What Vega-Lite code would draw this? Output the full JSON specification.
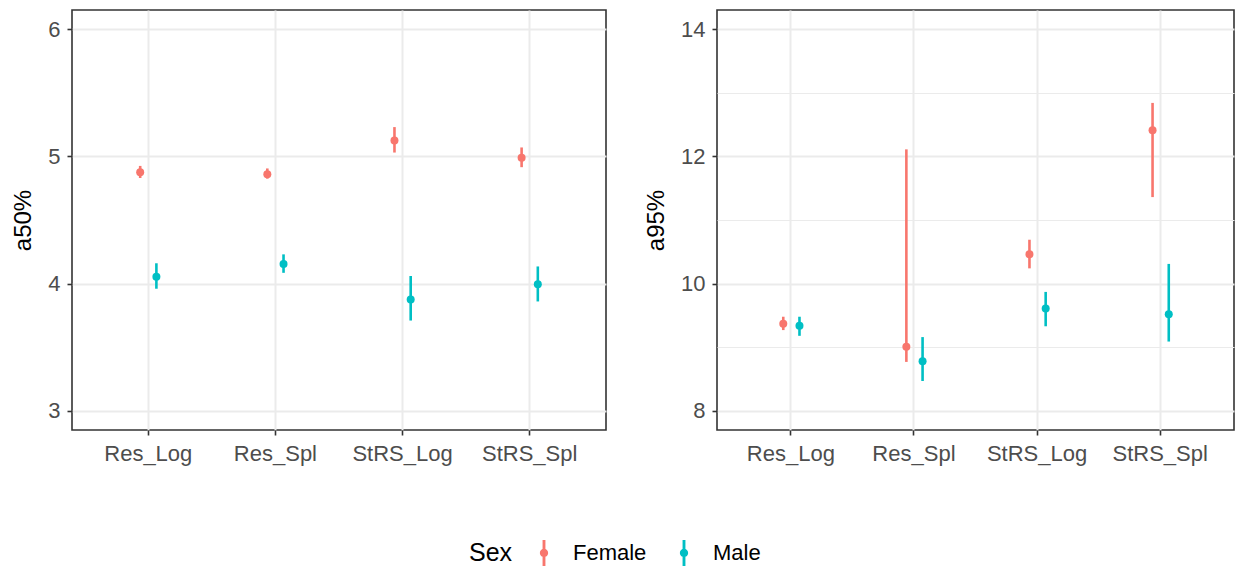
{
  "$schema": "https://vega.github.io/schema/vega-lite/v6.json",
  "padding": {"left": 10, "top": 9, "right": 0, "bottom": 0},
  "background": "white",
  "data": {
    "values": [
      {"param": "a50%", "model": "Res_Log", "Sex": "Female", "est": 4.875, "lo": 4.83, "hi": 4.925},
      {"param": "a50%", "model": "Res_Log", "Sex": "Male", "est": 4.055, "lo": 3.96, "hi": 4.16},
      {"param": "a50%", "model": "Res_Spl", "Sex": "Female", "est": 4.86, "lo": 4.825, "hi": 4.905},
      {"param": "a50%", "model": "Res_Spl", "Sex": "Male", "est": 4.155, "lo": 4.085, "hi": 4.23},
      {"param": "a50%", "model": "StRS_Log", "Sex": "Female", "est": 5.125, "lo": 5.03, "hi": 5.23},
      {"param": "a50%", "model": "StRS_Log", "Sex": "Male", "est": 3.875, "lo": 3.71, "hi": 4.06},
      {"param": "a50%", "model": "StRS_Spl", "Sex": "Female", "est": 4.99, "lo": 4.915, "hi": 5.07},
      {"param": "a50%", "model": "StRS_Spl", "Sex": "Male", "est": 3.995, "lo": 3.86, "hi": 4.135},
      {"param": "a95%", "model": "Res_Log", "Sex": "Female", "est": 9.37, "lo": 9.27, "hi": 9.48},
      {"param": "a95%", "model": "Res_Log", "Sex": "Male", "est": 9.34, "lo": 9.18, "hi": 9.48},
      {"param": "a95%", "model": "Res_Spl", "Sex": "Female", "est": 9.01, "lo": 8.77, "hi": 12.11},
      {"param": "a95%", "model": "Res_Spl", "Sex": "Male", "est": 8.78, "lo": 8.47, "hi": 9.16},
      {"param": "a95%", "model": "StRS_Log", "Sex": "Female", "est": 10.46, "lo": 10.24, "hi": 10.69},
      {"param": "a95%", "model": "StRS_Log", "Sex": "Male", "est": 9.61, "lo": 9.33, "hi": 9.87},
      {"param": "a95%", "model": "StRS_Spl", "Sex": "Female", "est": 12.41, "lo": 11.36, "hi": 12.84},
      {"param": "a95%", "model": "StRS_Spl", "Sex": "Male", "est": 9.52, "lo": 9.09, "hi": 10.31}
    ]
  },
  "spacing": 36,
  "hconcat": [
    {
      "width": 534,
      "height": 420,
      "transform": [{"filter": "datum.param === 'a50%'"}],
      "encoding": {
        "x": {"field": "model", "type": "nominal", "title": null,
              "scale": {"paddingInner": 0.745, "paddingOuter": 0.4725},
              "axis": {"bandPosition": 0.5}},
        "xOffset": {"field": "Sex", "type": "nominal", "scale": {"paddingInner": 0, "paddingOuter": 0}},
        "color": {"field": "Sex", "type": "nominal",
                  "scale": {"domain": ["Female", "Male"], "range": ["#F8766D", "#00BFC4"]},
                  "legend": {"title": "Sex"}}
      },
      "layer": [
        {
          "mark": {"type": "rule", "strokeWidth": 2.6},
          "encoding": {
            "y": {"field": "lo", "type": "quantitative", "title": "a50%",
                  "scale": {"domain": [2.85, 6.15], "nice": false, "zero": false},
                  "axis": {"values": [3, 3.5, 4, 4.5, 5, 5.5, 6], "format": "d",
                           "labelExpr": "datum.value % 1 === 0 ? datum.label : ''",
                           "gridWidth": {"condition": {"test": "datum.value % 1 === 0", "value": 2}, "value": 1},
                           "tickOpacity": {"condition": {"test": "datum.value % 1 === 0", "value": 1}, "value": 0}}},
            "y2": {"field": "hi"}
          }
        },
        {
          "mark": {"type": "point", "filled": true, "opacity": 1, "size": 64},
          "encoding": {"y": {"field": "est", "type": "quantitative"}}
        }
      ]
    },
    {
      "width": 517,
      "height": 420,
      "transform": [{"filter": "datum.param === 'a95%'"}],
      "encoding": {
        "x": {"field": "model", "type": "nominal", "title": null,
              "scale": {"paddingInner": 0.745, "paddingOuter": 0.4725},
              "axis": {"bandPosition": 0.5}},
        "xOffset": {"field": "Sex", "type": "nominal", "scale": {"paddingInner": 0, "paddingOuter": 0}},
        "color": {"field": "Sex", "type": "nominal",
                  "scale": {"domain": ["Female", "Male"], "range": ["#F8766D", "#00BFC4"]},
                  "legend": {"title": "Sex"}}
      },
      "layer": [
        {
          "mark": {"type": "rule", "strokeWidth": 2.6},
          "encoding": {
            "y": {"field": "lo", "type": "quantitative", "title": "a95%",
                  "scale": {"domain": [7.7, 14.3], "nice": false, "zero": false},
                  "axis": {"values": [8, 9, 10, 11, 12, 13, 14], "format": "d",
                           "labelExpr": "datum.value % 2 === 0 ? datum.label : ''",
                           "gridWidth": {"condition": {"test": "datum.value % 2 === 0", "value": 2}, "value": 1},
                           "tickOpacity": {"condition": {"test": "datum.value % 2 === 0", "value": 1}, "value": 0}}},
            "y2": {"field": "hi"}
          }
        },
        {
          "mark": {"type": "point", "filled": true, "opacity": 1, "size": 64},
          "encoding": {"y": {"field": "est", "type": "quantitative"}}
        }
      ]
    }
  ],
  "resolve": {"scale": {"color": "shared"}},
  "config": {
    "font": "Liberation Sans",
    "view": {"stroke": "#333333", "strokeWidth": 1.6},
    "axis": {
      "domain": false,
      "grid": true,
      "gridColor": "#EBEBEB",
      "gridWidth": 2,
      "tickColor": "#333333",
      "tickWidth": 1.6,
      "tickSize": 5,
      "labelFont": "Liberation Sans",
      "labelFontSize": 22,
      "labelColor": "#4D4D4D",
      "labelPadding": 7,
      "titleFont": "Liberation Sans",
      "titleFontSize": 24,
      "titleFontWeight": "normal",
      "titleColor": "#000000",
      "titlePadding": 12
    },
    "axisX": {"labelAngle": 0, "labelPadding": 8},
    "legend": {
      "orient": "none",
      "legendX": 397,
      "legendY": 530,
      "direction": "horizontal",
      "titleOrient": "left",
      "titleFont": "Liberation Sans",
      "titleFontSize": 25,
      "titleFontWeight": "normal",
      "titleColor": "#000000",
      "titlePadding": 18,
      "titleBaseline": "middle",
      "labelFont": "Liberation Sans",
      "labelFontSize": 22,
      "labelColor": "#000000",
      "labelOffset": 16,
      "columnPadding": 24,
      "symbolSize": 676,
      "symbolType": "M-0.11,-1L0.11,-1L0.11,-0.3L-0.11,-0.3Z M-0.11,0.3L0.11,0.3L0.11,1L-0.11,1Z M-0.32,0A0.32,0.32 0 1,1 0.32,0A0.32,0.32 0 1,1 -0.32,0Z",
      "symbolStrokeWidth": 0,
      "symbolOpacity": 1
    }
  }
}
